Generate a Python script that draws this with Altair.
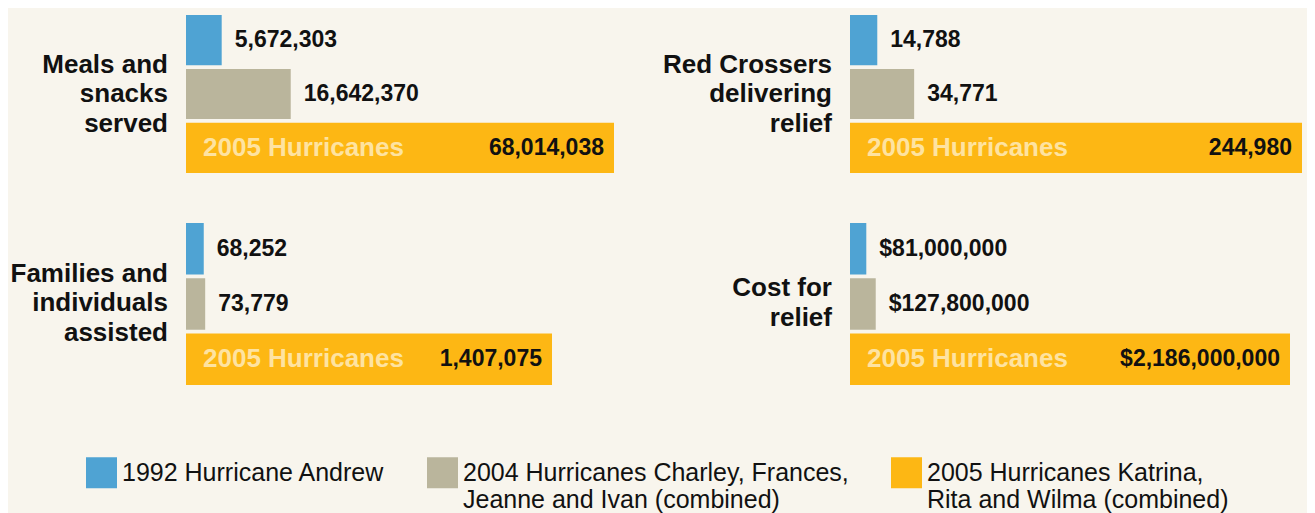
import altair as alt
import pandas as pd

# ---- data ----
metric_lines = [
    ["Meals and", "snacks", "served"],
    ["Red Crossers", "delivering", "relief"],
    ["Families and", "individuals", "assisted"],
    ["Cost for", "relief"],
]
value_prefix = ["", "", "", "$"]
series_names = [
    "1992 Hurricane Andrew",
    "2004 Hurricanes Charley, Frances,\nJeanne and Ivan (combined)",
    "2005 Hurricanes Katrina,\nRita and Wilma (combined)",
]
series_colors = ["#4fa3d3", "#bab59c", "#fdb714"]
andrew_1992 = [5672303, 14788, 68252, 81000000]
combined_2004 = [16642370, 34771, 73779, 127800000]
combined_2005 = [68014038, 244980, 1407075, 2186000000]
inner_tag = "2005 Hurricanes"

# ---- layout / style ----
BG = "#f8f5ed"
FONT = "Liberation Sans"
INK = "#111111"
bar_end_px = [606, 630, 544, 618]
panel_w = [664, 635, 664, 635]
row_h = 208
y_ranges = [[7, 165], [7, 165], [7, 169], [7, 169]]
label_center = [86, 86, 87, 87]
label_lh = 29.5

legend = alt.Legend(
    orient="none", legendX=78, legendY=449, direction="horizontal", title=None,
    symbolType="square", symbolSize=961, symbolStrokeWidth=0, symbolOpacity=1,
    labelFontSize=25, labelFont=FONT, labelColor=INK, labelLimit=0, labelOffset=5,
    columnPadding=42, labelBaseline="middle",
    labelExpr="split(datum.label + (indexof(datum.label, '\\n') < 0 ? '\\n ' : ''), '\\n')",
)


def panel(i):
    vals = [andrew_1992[i], combined_2004[i], combined_2005[i]]
    df = pd.DataFrame({
        "series": series_names,
        "value": vals,
        "start": [0, 0, 0],
        "label": [f"{value_prefix[i]}{v:,}" for v in vals],
        "inside": [False, False, True],
    })
    xs = alt.Scale(range=[178, bar_end_px[i]], nice=False, zero=True)
    y = alt.Y("series:N", axis=None, sort=series_names,
              scale=alt.Scale(range=y_ranges[i], paddingInner=0.07, paddingOuter=0))
    base = alt.Chart(df).encode(y=y)
    bars = base.mark_bar().encode(
        x=alt.X("value:Q", axis=None, scale=xs),
        color=alt.Color("series:N", scale=alt.Scale(domain=series_names, range=series_colors),
                        legend=legend),
    )
    out_txt = base.transform_filter("!datum.inside").mark_text(
        align="left", baseline="middle", dx=13, font=FONT, fontSize=23, fontWeight="bold", color=INK
    ).encode(x=alt.X("value:Q", scale=xs), text="label:N")
    in_txt = base.transform_filter("datum.inside").mark_text(
        align="right", baseline="middle", dx=-10, font=FONT, fontSize=23, fontWeight="bold", color=INK
    ).encode(x=alt.X("value:Q", scale=xs), text="label:N")
    tag = base.transform_filter("datum.inside").mark_text(
        align="left", baseline="middle", dx=17, font=FONT, fontSize=26, fontWeight="bold", color="#fee3a1"
    ).encode(x=alt.X("start:Q", scale=xs), text=alt.value(inner_tag))
    n = len(metric_lines[i])
    lab_df = pd.DataFrame({"text": ["\n".join(metric_lines[i])]})
    lab = alt.Chart(lab_df).mark_text(
        align="right", baseline="middle", lineBreak="\n", lineHeight=label_lh,
        font=FONT, fontSize=26, fontWeight="bold", color=INK
    ).encode(x=alt.value(160), y=alt.value(label_center[i] - (n - 1) * label_lh / 2), text="text:N")
    return alt.layer(bars, out_txt, in_txt, tag, lab).properties(width=panel_w[i], height=row_h)


row1 = alt.hconcat(panel(0), panel(1), spacing=0, bounds="flush").resolve_scale(
    x="independent", y="independent", color="shared")
row2 = alt.hconcat(panel(2), panel(3), spacing=0, bounds="flush").resolve_scale(
    x="independent", y="independent", color="shared")
chart = (
    alt.vconcat(row1, row2, spacing=0)
    .resolve_scale(x="independent", y="independent", color="shared")
    .properties(background=BG, padding=0)
    .configure(style={"guide-label": {"lineHeight": 27}})
    .configure_view(stroke=None)
)
chart.save("out.html", embed_options={"renderer": "svg", "actions": False})
